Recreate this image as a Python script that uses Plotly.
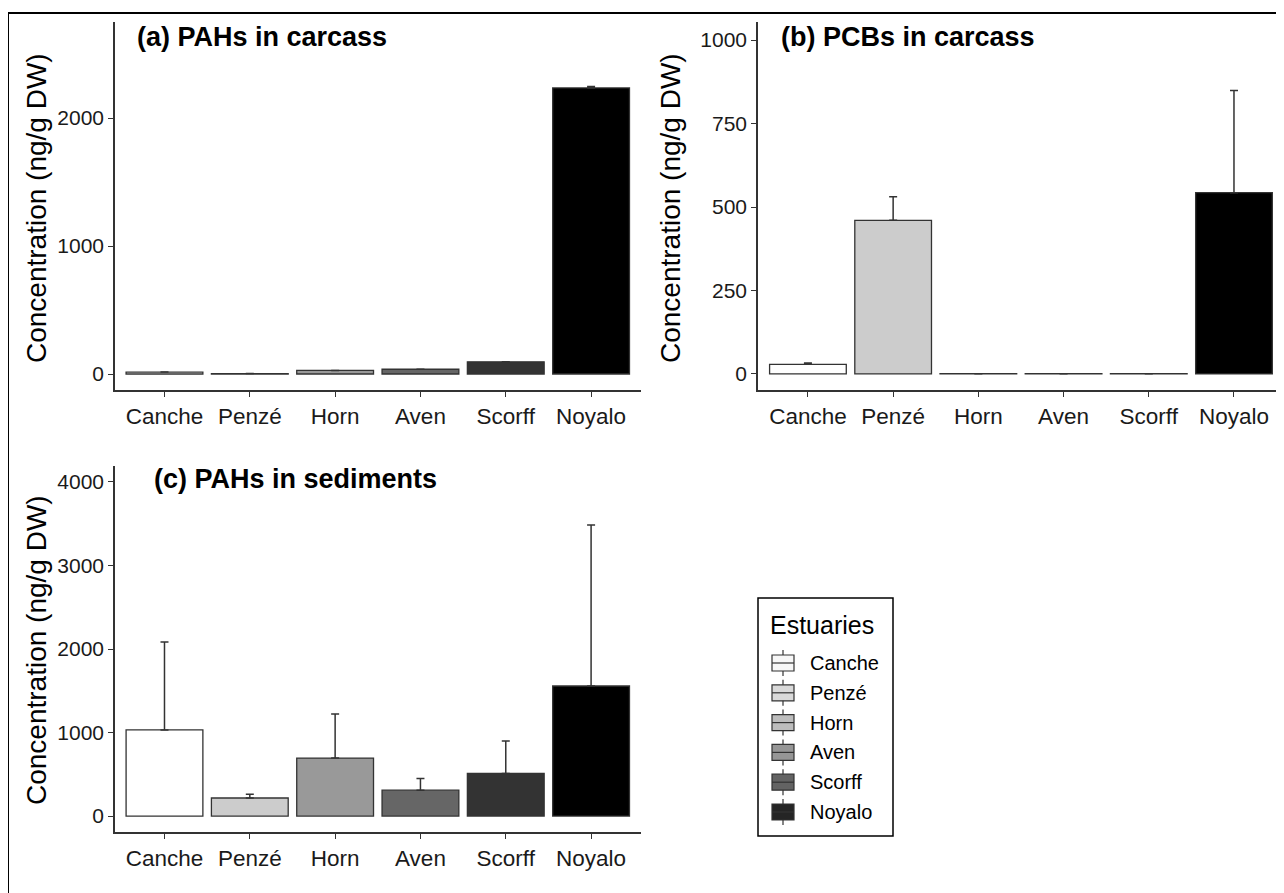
import plotly.graph_objects as go

# ---- data ----
estuaries = ["Canche", "Penzé", "Horn", "Aven", "Scorff", "Noyalo"]

pah_carcass_mean = [15, 3, 28, 37, 95, 2235]
pah_carcass_upper = [15, 3, 28, 37, 95, 2246]

pcb_carcass_mean = [29, 460, 1, 1, 1, 543]
pcb_carcass_upper = [33, 531, 1, 1, 1, 849]

pah_sed_mean = [1031, 217, 695, 311, 511, 1557]
pah_sed_upper = [2084, 263, 1222, 450, 898, 3485]

bar_colors = ["#FFFFFF", "#CCCCCC", "#999999", "#666666", "#333333", "#000000"]
legend_colors = ["#F7F7F7", "#D9D9D9", "#BDBDBD", "#969696", "#636363", "#252525"]

pah_carcass_ticks = [0, 1000, 2000]
pcb_carcass_ticks = [0, 250, 500, 750, 1000]
pah_sed_ticks = [0, 1000, 2000, 3000, 4000]

# ---- layout helpers ----
OFF = 8  # page body margin
W, H = 1284 - OFF, 893 - OFF
FONT = "Liberation Sans, Arial, sans-serif"
AX = "#333333"


def px(x):
    return (x - OFF) / W


def py(y):
    return 1 - (y - OFF) / H


def bar_trace(means, uppers, xa, ya):
    plus = [u - m for u, m in zip(uppers, means)]
    return go.Bar(
        x=estuaries, y=means, xaxis=xa, yaxis=ya, width=0.9,
        marker=dict(color=bar_colors, line=dict(color=AX, width=1.3)),
        error_y=dict(type="data", symmetric=False, array=plus,
                     arrayminus=[0] * len(plus), color=AX, thickness=1.5, width=4),
        showlegend=False, hoverinfo="x+y",
    )


fig = go.Figure()
fig.add_trace(bar_trace(pah_carcass_mean, pah_carcass_upper, "x", "y"))
fig.add_trace(bar_trace(pcb_carcass_mean, pcb_carcass_upper, "x2", "y2"))
fig.add_trace(bar_trace(pah_sed_mean, pah_sed_upper, "x3", "y3"))


def xaxis(domain, anchor, rng):
    return dict(domain=domain, anchor=anchor, type="category", range=rng,
                showline=True, linecolor=AX, linewidth=1.6, ticks="outside",
                ticklen=5, tickwidth=1.3, tickcolor=AX, showgrid=False,
                zeroline=False, tickfont=dict(family=FONT, size=22.5, color="#1a1a1a"))


def yaxis(domain, anchor, rng, tickvals):
    return dict(domain=domain, anchor=anchor, range=rng, tickvals=tickvals,
                showline=True, linecolor=AX, linewidth=1.6, ticks="outside",
                ticklen=5, tickwidth=1.3, tickcolor=AX, showgrid=False,
                zeroline=False, tickfont=dict(family=FONT, size=21, color="#1a1a1a"))


xa_dom = [px(115), px(641)]
xb_dom = [px(758), px(1284)]
top_dom = [py(390), py(22)]
bot_dom = [py(832), py(466)]

fig.update_layout(
    width=W, height=H,
    margin=dict(l=0, r=0, t=0, b=0),
    paper_bgcolor="white", plot_bgcolor="white",
    font=dict(family=FONT, color="#222222"),
    xaxis=xaxis(xa_dom, "y", [-0.58, 5.585]),
    yaxis=yaxis(top_dom, "x", [-125, 2750], pah_carcass_ticks),
    xaxis2=xaxis(xb_dom, "y2", [-0.586, 5.587]),
    yaxis2=yaxis(top_dom, "x2", [-48, 1054], pcb_carcass_ticks),
    xaxis3=xaxis(xa_dom, "y3", [-0.58, 5.585]),
    yaxis3=yaxis(bot_dom, "x3", [-190, 4190], pah_sed_ticks),
    bargap=0.1,
)

annotations = []
# panel titles
for text, x, y in [("(a) PAHs in carcass", 135, 37),
                   ("(b) PCBs in carcass", 779, 37),
                   ("(c) PAHs in sediments", 152, 479)]:
    annotations.append(dict(text="<b>%s</b>" % text, x=px(x), y=py(y),
                            xref="paper", yref="paper", xanchor="left",
                            yanchor="middle", showarrow=False,
                            font=dict(family=FONT, size=27, color="#000000")))
# y axis titles
for x, y in [(36, 208), (670, 208), (36, 650)]:
    annotations.append(dict(text="Concentration (ng/g DW)", x=px(x), y=py(y),
                            xref="paper", yref="paper", xanchor="center",
                            yanchor="middle", textangle=-90, showarrow=False,
                            font=dict(family=FONT, size=28, color="#000000")))

shapes = []
# outer frame
shapes.append(dict(type="rect", xref="paper", yref="paper",
                   x0=px(8), x1=px(1300), y0=py(910), y1=py(13),
                   line=dict(color="#000000", width=2), fillcolor="rgba(0,0,0,0)"))

# legend
shapes.append(dict(type="rect", xref="paper", yref="paper",
                   x0=px(758), x1=px(893), y0=py(836), y1=py(598),
                   line=dict(color="#000000", width=1.5), fillcolor="white"))
annotations.append(dict(text="Estuaries", x=px(768), y=py(625), xref="paper",
                        yref="paper", xanchor="left", yanchor="middle",
                        showarrow=False,
                        font=dict(family=FONT, size=25, color="#000000")))
for i, (name, col) in enumerate(zip(estuaries, legend_colors)):
    cy = 663 + i * 29.8
    shapes.append(dict(type="line", xref="paper", yref="paper",
                       x0=px(783), x1=px(783), y0=py(cy - 13), y1=py(cy + 13),
                       line=dict(color="#333333", width=1.2)))
    shapes.append(dict(type="rect", xref="paper", yref="paper",
                       x0=px(772), x1=px(794), y0=py(cy + 8), y1=py(cy - 8),
                       line=dict(color="#333333", width=1.2), fillcolor=col))
    shapes.append(dict(type="line", xref="paper", yref="paper",
                       x0=px(772), x1=px(794), y0=py(cy), y1=py(cy),
                       line=dict(color="#333333", width=1.2)))
    annotations.append(dict(text=name, x=px(808), y=py(cy), xref="paper",
                            yref="paper", xanchor="left", yanchor="middle",
                            showarrow=False,
                            font=dict(family=FONT, size=20, color="#000000")))

fig.update_layout(annotations=annotations, shapes=shapes)

fig.write_html("out.html")
